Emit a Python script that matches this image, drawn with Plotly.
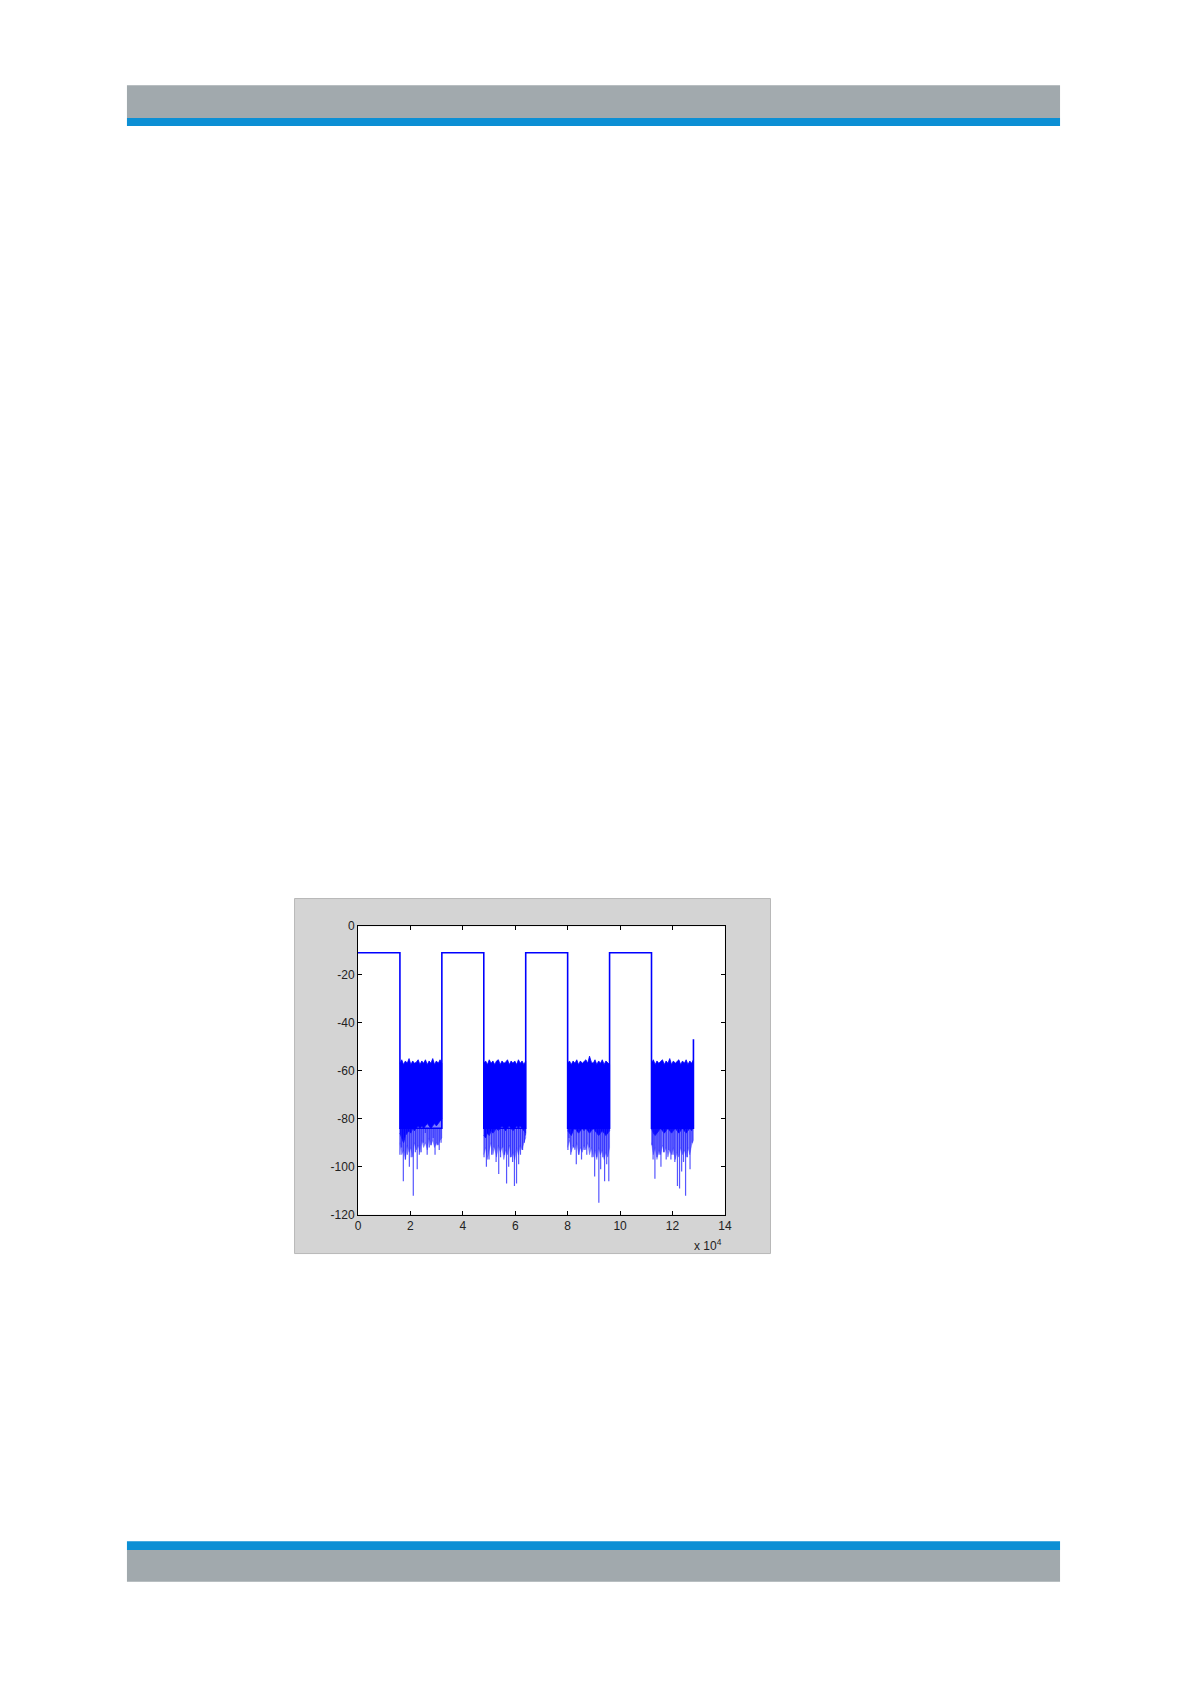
import numpy as np
import plotly.graph_objects as go

# ---------------- data ----------------
x_tick_vals = [0, 2, 4, 6, 8, 10, 12, 14]          # in units of 1e4
y_tick_vals = [0, -20, -40, -60, -80, -100, -120]
high_level = -11
seg_len = 1.6                                       # 1e4 samples
low_starts = [1.6, 4.8, 8.0, 11.2]                  # 1e4 samples
end_x = 12.8
end_spike = -47

core_top = [
    [-57, -55.5, -57.5, -56, -57, -55, -57.5, -56, -57, -56.5, -55.5, -57.5,
     -56, -57, -55.5, -57.5, -56, -57, -55, -57.5, -56, -57, -55.5, -57],
    [-57, -56, -57.5, -55.5, -57, -56, -57.5, -56, -55.5, -57.5, -56, -57,
     -56.5, -55.5, -57.5, -56, -57, -56, -57.5, -55.5, -57, -56, -57.5, -56],
    [-57, -56, -57.5, -56, -57, -55.5, -57.5, -56, -57, -56, -55.5, -57,
     -54, -56.5, -57, -55.5, -57.5, -56, -57, -55.5, -57.5, -56, -57, -57.5],
    [-57, -55.5, -57.5, -56, -57, -56, -55.5, -57.5, -56, -57, -55, -57.5,
     -56, -57, -56, -55.5, -57.5, -56, -57, -55.5, -57.5, -56, -57, -55.5],
]
core_bottom = [
    [-86, -88, -90, -87, -86, -85, -86, -84, -85, -84, -83, -84,
     -83, -84, -83, -82, -83, -84, -83, -82, -83, -82, -81, -80],
    [-87, -88, -86, -87, -85, -86, -85, -84, -85, -84, -83, -84,
     -85, -84, -83, -84, -85, -84, -83, -84, -83, -84, -85, -86],
    [-85, -86, -87, -85, -84, -85, -86, -85, -84, -85, -84, -85,
     -86, -85, -84, -85, -86, -87, -86, -85, -86, -87, -86, -85],
    [-84, -86, -87, -86, -85, -84, -85, -86, -85, -84, -85, -86,
     -85, -84, -85, -86, -85, -84, -85, -86, -85, -84, -85, -83],
]
mid_bottom = [
    [-90, -95, -93, -97, -91, -94, -92, -96, -90, -93, -91, -94,
     -89, -92, -90, -93, -88, -91, -89, -92, -90, -91, -89, -88],
    [-95, -92, -97, -93, -90, -95, -92, -96, -91, -94, -92, -97,
     -93, -95, -91, -96, -94, -97, -92, -95, -91, -93, -90, -88],
    [-92, -89, -94, -91, -93, -90, -95, -92, -94, -91, -93, -90,
     -95, -92, -96, -93, -97, -92, -95, -93, -97, -94, -96, -92],
    [-90, -95, -92, -97, -93, -95, -91, -94, -92, -96, -93, -95,
     -92, -97, -94, -96, -92, -95, -93, -96, -92, -95, -91, -89],
]
spike_x = [
    [1.60, 1.66, 1.73, 1.81, 1.88, 1.96, 2.03, 2.11, 2.19, 2.26, 2.34,
     2.41, 2.49, 2.57, 2.64, 2.72, 2.79, 2.87, 2.94, 3.02, 3.10, 3.17],
    [4.81, 4.90, 5.00, 5.10, 5.19, 5.27, 5.37, 5.44, 5.52, 5.59, 5.67,
     5.75, 5.82, 5.90, 5.97, 6.05, 6.13, 6.20, 6.28, 6.35, 6.39],
    [8.01, 8.05, 8.12, 8.23, 8.33, 8.43, 8.53, 8.63, 8.73, 8.83, 8.93,
     9.03, 9.11, 9.19, 9.26, 9.34, 9.41, 9.49, 9.57],
    [11.22, 11.26, 11.33, 11.41, 11.49, 11.56, 11.66, 11.76, 11.86, 11.94,
     12.02, 12.09, 12.19, 12.27, 12.35, 12.42, 12.50, 12.57, 12.67, 12.75],
]
spike_y = [
    [-95, -92, -106, -97, -95, -100, -96, -112, -94, -101, -95,
     -94, -90, -86, -95, -92, -91, -88, -95, -91, -93, -90],
    [-96, -100, -97, -95, -92, -98, -103, -96, -92, -95, -107,
     -100, -96, -98, -108, -107, -99, -95, -93, -90, -87],
    [-93, -88, -95, -92, -99, -95, -97, -93, -95, -92, -96,
     -104, -96, -115, -101, -96, -106, -99, -106],
    [-91, -97, -105, -96, -95, -100, -94, -97, -93, -97,
     -95, -98, -108, -109, -102, -98, -112, -96, -101, -90],
]

SCALE = 1e4
BLUE = "#0000ff"

# ---------------- page geometry ----------------
W, H = 1191, 1684
def px(x): return x / W
def py(y): return 1 - y / H

fig = go.Figure()

# noise bands
for k, s in enumerate(low_starts):
    n = len(core_top[k])
    xs = np.linspace(s, s + seg_len, n) * SCALE
    # medium-density band (jagged lower edge)
    fig.add_trace(go.Scatter(
        x=list(xs) + list(xs[::-1]),
        y=list(core_bottom[k]) + list(mid_bottom[k][::-1]),
        fill="toself", fillcolor="rgba(40,40,255,0.6)",
        line=dict(width=0.6, color="rgba(60,60,255,0.6)"), mode="lines",
        hoverinfo="skip", showlegend=False))
    # dense core
    fig.add_trace(go.Scatter(
        x=list(xs) + list(xs[::-1]),
        y=list(core_top[k]) + list(core_bottom[k][::-1]),
        fill="toself", fillcolor=BLUE,
        line=dict(width=0.8, color=BLUE), mode="lines",
        hoverinfo="skip", showlegend=False))

# spikes
sx, sy = [], []
for k in range(len(low_starts)):
    for xv, yv in zip(spike_x[k], spike_y[k]):
        sx += [xv * SCALE, xv * SCALE, None]
        sy += [-84, yv, None]
fig.add_trace(go.Scatter(x=sx, y=sy, mode="lines",
                         line=dict(color="rgba(30,30,255,0.75)", width=1.2),
                         hoverinfo="skip", showlegend=False))

# step waveform
stx, sty = [0], [high_level]
for s in low_starts:
    stx += [s * SCALE, s * SCALE, (s + seg_len) * SCALE]
    sty += [high_level, -84, -84]
    if s + seg_len < end_x - 1e-9:
        stx += [(s + seg_len) * SCALE]
        sty += [high_level]
stx += [end_x * SCALE]
sty += [end_spike]
fig.add_trace(go.Scatter(x=stx, y=sty, mode="lines",
                         line=dict(color=BLUE, width=1.6),
                         hoverinfo="skip", showlegend=False))

# ---------------- decorations ----------------
shapes = [
    # header
    dict(type="rect", xref="paper", yref="paper", x0=px(125), x1=px(1066),
         y0=py(112), y1=py(79), fillcolor="#a1a9ad", line=dict(width=0), layer="below"),
    dict(type="rect", xref="paper", yref="paper", x0=px(125), x1=px(1066),
         y0=py(120), y1=py(112), fillcolor="#0c8fd4", line=dict(width=0), layer="below"),
    # footer
    dict(type="rect", xref="paper", yref="paper", x0=px(125), x1=px(1066),
         y0=py(1556), y1=py(1547), fillcolor="#0c8fd4", line=dict(width=0), layer="below"),
    dict(type="rect", xref="paper", yref="paper", x0=px(125), x1=px(1066),
         y0=py(1588), y1=py(1556), fillcolor="#a1a9ad", line=dict(width=0), layer="below"),
    # matlab figure background
    dict(type="rect", xref="paper", yref="paper", x0=px(294), x1=px(774),
         y0=py(1257), y1=py(899), fillcolor="#d4d4d4",
         line=dict(width=1, color="#b8b8b8"), layer="below"),
    dict(type="rect", xref="paper", yref="paper", x0=px(358), x1=px(728),
         y0=py(1218), y1=py(927), fillcolor="#ffffff",
         line=dict(width=0), layer="below"),
]

axis_font = dict(family="Liberation Sans, Arial, sans-serif", size=12, color="#222222")

fig.update_layout(
    width=W, height=H, margin=dict(l=0, r=0, t=0, b=0),
    paper_bgcolor="white", plot_bgcolor="rgba(0,0,0,0)",
    showlegend=False, shapes=shapes,
    xaxis=dict(domain=[px(358), px(728)], range=[0, 14 * SCALE],
               tickvals=[v * SCALE for v in x_tick_vals],
               ticktext=[str(v) for v in x_tick_vals],
               ticks="inside", ticklen=4, tickcolor="black", tickwidth=1,
               showline=True, linecolor="black", linewidth=1, mirror="ticks",
               showgrid=False, zeroline=False, tickfont=axis_font),
    yaxis=dict(domain=[py(1218), py(927)], range=[-120, 0],
               tickvals=y_tick_vals, ticktext=[str(v) for v in y_tick_vals],
               ticks="inside", ticklen=4, tickcolor="black", tickwidth=1,
               showline=True, linecolor="black", linewidth=1, mirror="ticks",
               showgrid=False, zeroline=False, tickfont=axis_font),
    annotations=[dict(text="x 10<sup>4</sup>", xref="paper", yref="paper",
                      x=px(727), y=py(1248), xanchor="right", yanchor="middle",
                      showarrow=False, font=axis_font)],
)

fig.write_html("out.html", config={"displayModeBar": False},
               post_script="document.body.style.margin='0';")
